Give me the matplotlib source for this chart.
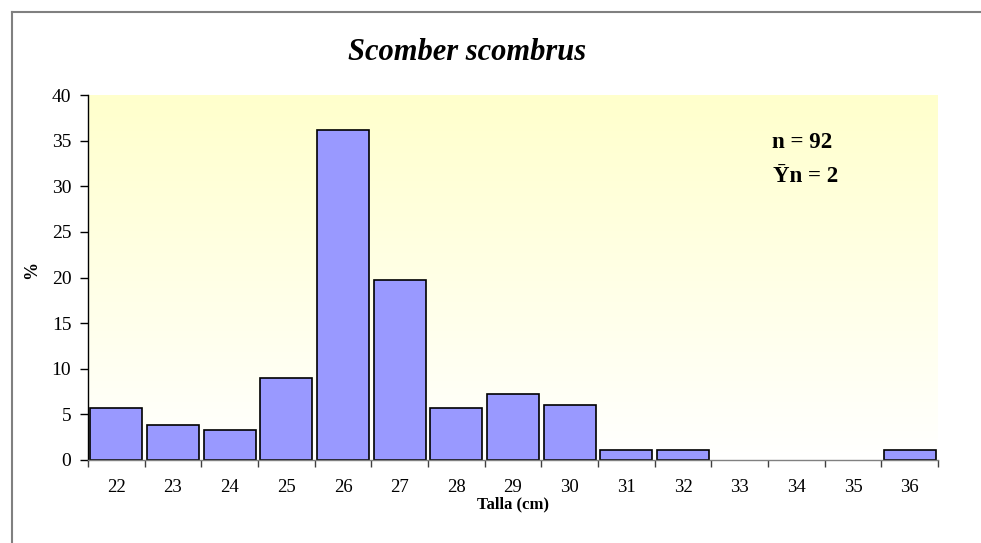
import matplotlib
matplotlib.use("Agg")
import matplotlib.pyplot as plt
import numpy as np
from matplotlib.colors import LinearSegmentedColormap

categories = ["22", "23", "24", "25", "26", "27", "28", "29", "30", "31", "32", "33", "34", "35", "36"]
values = [5.7, 3.8, 3.3, 9.0, 36.2, 19.7, 5.7, 7.2, 6.0, 1.1, 1.1, 0, 0, 0, 1.1]
y_ticks = [0, 5, 10, 15, 20, 25, 30, 35, 40]
title = "Scomber scombrus"
xlabel = "Talla (cm)"
ylabel = "%"
note_lines = ["n = 92", "\u0232n = 2"]

plt.rcParams['font.family'] = ['Liberation Serif', 'DejaVu Serif']

W, H = 981, 543
fig = plt.figure(figsize=(W/100, H/100), dpi=100)
ax = fig.add_axes([88/W, (H-460)/H, (938-88)/W, (460-95)/H])

n = len(categories)
x = np.arange(n)
ax.set_xlim(-0.5, n - 0.5)
ax.set_ylim(0, 40)

# gradient background
cmap = LinearSegmentedColormap.from_list("bg", ["#ffffff", "#ffffcc"])
grad = np.linspace(0, 1, 256).reshape(-1, 1)
ax.imshow(grad, aspect='auto', cmap=cmap, origin='lower',
          extent=(-0.5, n - 0.5, 0, 40), zorder=0)

lws = [1.2 if v > 0 else 0 for v in values]
ax.bar(x, values, width=0.92, color="#9999ff", edgecolor="black", linewidth=lws, zorder=2)

for s in ["top", "right"]:
    ax.spines[s].set_visible(False)
ax.spines["left"].set_color("black")
ax.spines["left"].set_linewidth(1.0)
ax.spines["bottom"].set_color("#808080")
ax.spines["bottom"].set_linewidth(1.0)

ax.set_yticks(y_ticks)
ax.set_yticklabels([str(v) for v in y_ticks], fontsize=14)
ax.tick_params(axis='y', direction='out', length=6, width=1, pad=6, color='black')

ax.set_xticks(np.arange(-0.5, n, 1.0))
ax.set_xticklabels([])
ax.tick_params(axis='x', which='major', direction='out', length=5, width=1, color='#404040')
ax.set_xticks(x, minor=True)
ax.set_xticklabels(categories, minor=True, fontsize=13.5)
ax.tick_params(axis='x', which='minor', length=0, pad=14)

ax.set_xlabel(xlabel, fontsize=12, fontweight='bold')
ax.xaxis.set_label_coords(0.5, -(504 - 460) / (460 - 95), transform=ax.transAxes)
ax.xaxis.label.set_va('center')
ax.set_ylabel(ylabel, fontsize=13, fontweight='bold')
ax.yaxis.set_label_coords(-(88 - 32) / (938 - 88), (460 - 270) / (460 - 95), transform=ax.transAxes)
ax.yaxis.label.set_va('center')

fig.text(467/W, 1 - 52/H, title, fontsize=22, fontweight='bold', fontstyle='italic',
         ha='center', va='center')

fig.text(772/W, 1 - 143/H, note_lines[0], fontsize=16.5, fontweight='bold', ha='left', va='center')
fig.text(773/W, 1 - 176/H, note_lines[1], fontsize=16.5, fontweight='bold', ha='left', va='center')

# frame lines (left and top)
fig.add_artist(plt.Line2D([11.5/W, 11.5/W], [0, 1 - 12/H], transform=fig.transFigure,
                          color="#808080", linewidth=1.5))
fig.add_artist(plt.Line2D([11.5/W, 1], [1 - 12/H, 1 - 12/H], transform=fig.transFigure,
                          color="#808080", linewidth=1.5))

fig.savefig("out.png", dpi=100)
